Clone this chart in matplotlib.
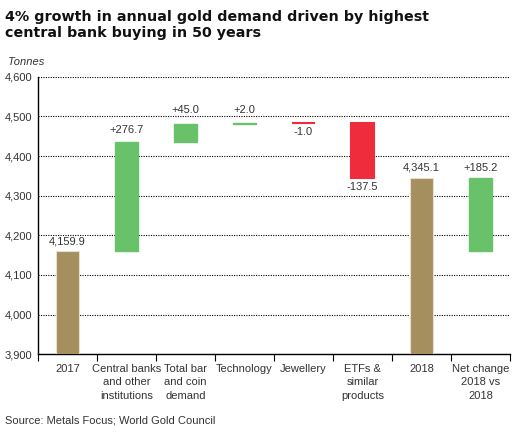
import numpy as np
import matplotlib
matplotlib.use('Agg')
import matplotlib.pyplot as plt
from matplotlib.ticker import FuncFormatter

plt.rcParams['font.family'] = ['Liberation Sans', 'DejaVu Sans']

categories = ['2017', 'Central banks\nand other\ninstitutions', 'Total bar\nand coin\ndemand',
              'Technology', 'Jewellery', 'ETFs &\nsimilar\nproducts', '2018',
              'Net change\n2018 vs\n2018']
values = [4159.9, 276.7, 45.0, 2.0, -1.0, -137.5, 4345.1, 185.2]
kinds = ['total', 'change', 'change', 'change', 'change', 'change', 'total', 'net']
value_labels = ['4,159.9', '+276.7', '+45.0', '+2.0', '-1.0', '-137.5', '4,345.1', '+185.2']

tan = '#A58F5E'
green = '#69C26A'
red = '#EE2C3C'
# label offsets in points (above for positive, below for negative)
offsets = [5, 6, 7.5, 7.5, 3, 3, 5, 5]

fig = plt.figure(figsize=(5.3, 4.34), dpi=100)
ax = fig.add_axes([0.0717, 0.184, 0.8906, 0.639])

x = np.arange(len(categories))
running = 0.0
start = values[0]
for i, (v, k) in enumerate(zip(values, kinds)):
    if k == 'total':
        bottom, height, col = 0, v, tan
        running = v
        top_y = v
    elif k == 'net':
        bottom, height, col = start, v, green
        top_y = start + v
    else:
        bottom, height = running, v
        col = green if v >= 0 else red
        running += v
        top_y = max(bottom, bottom + v)
    if col == tan:
        ax.bar(i, height, bottom=bottom, width=0.4, color=col,
               edgecolor='#e8e0cc', linewidth=0.8, zorder=3)
    else:
        ax.bar(i, height, bottom=bottom, width=0.4, color=col,
               edgecolor=col, linewidth=1.0 if v >= 0 else 1.5, zorder=3)
    if v >= 0:
        ax.annotate(value_labels[i], (i, top_y), xytext=(0, offsets[i]), textcoords='offset points',
                    ha='center', va='baseline', fontsize=8, color='#333333')
    else:
        ax.annotate(value_labels[i], (i, bottom + v), xytext=(0, -offsets[i]), textcoords='offset points',
                    ha='center', va='top', fontsize=8, color='#333333')

ax.set_xlim(-0.5, len(categories) - 0.5)
ax.set_ylim(3900, 4600)
ax.set_yticks(np.arange(3900, 4601, 100))
ax.yaxis.set_major_formatter(FuncFormatter(lambda v, p: f'{v:,.0f}'))
ax.tick_params(axis='y', length=0, labelsize=8, labelcolor='#333333', pad=4)
ax.yaxis.grid(True, linestyle=(0, (1, 1.2)), color='black', linewidth=0.8, zorder=0)

ax.set_xticks(x)
ax.set_xticklabels(categories, fontsize=8, color='#333333', linespacing=1.45)
ax.set_xticks(np.arange(-0.5, len(categories), 1), minor=True)
ax.tick_params(axis='x', which='major', length=0, pad=7)
ax.tick_params(axis='x', which='minor', length=5, width=0.8, direction='out')

for s in ['top', 'right']:
    ax.spines[s].set_visible(False)
ax.spines['left'].set_linewidth(1)
ax.spines['bottom'].set_linewidth(1)

fig.text(0.009, 0.978, '4% growth in annual gold demand driven by highest\ncentral bank buying in 50 years',
         fontsize=10.25, fontweight='bold', va='top', ha='left', color='#111111', linespacing=1.22,
         family='DejaVu Sans')
fig.text(0.015, 0.857, 'Tonnes', fontsize=8, style='italic', color='#333333', va='center')
fig.text(0.009, 0.032, 'Source: Metals Focus; World Gold Council', fontsize=8,
         color='#333333', va='center')

fig.savefig('out.png', dpi=100)
